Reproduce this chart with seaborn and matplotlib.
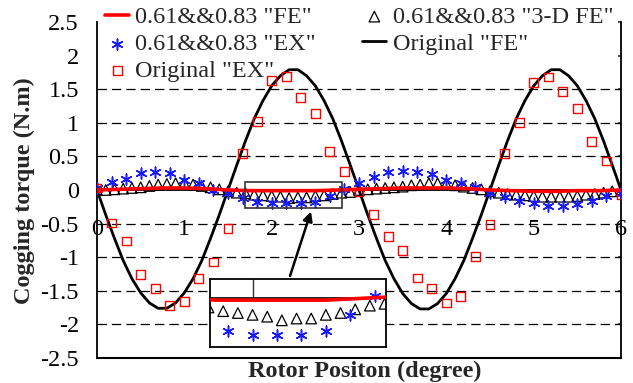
import matplotlib
matplotlib.use('Agg')
import matplotlib.pyplot as plt
import seaborn as sns
import pandas as pd
import numpy as np
from matplotlib.patches import Rectangle

# 数据
# Original "FE" 曲线, 0 ~ 6 度, 步长 0.1
x_fine = np.round(np.arange(0, 6.05, 0.1), 1)
orig_fe = [0.0, -0.37, -0.72, -1.05, -1.32, -1.53, -1.68, -1.76, -1.76, -1.68, -1.53, -1.32, -1.05, -0.72, -0.37, 0.0,
           0.37, 0.73, 1.06, 1.33, 1.55, 1.70, 1.79, 1.79, 1.70, 1.55, 1.33, 1.06, 0.73, 0.37, 0.0,
           -0.37, -0.72, -1.05, -1.32, -1.54, -1.69, -1.77, -1.77, -1.69, -1.54, -1.32, -1.05, -0.72, -0.37, 0.0,
           0.37, 0.73, 1.06, 1.33, 1.55, 1.70, 1.79, 1.79, 1.70, 1.55, 1.33, 1.06, 0.73, 0.37, 0.0]

# 0.61&&0.83 "3-D FE" 三角形, 步长 0.1
fe_3d = [0.0, 0.0, 0.01, 0.02, 0.03, 0.04, 0.06, 0.08, 0.09, 0.10, 0.10, 0.08, 0.06, 0.04, 0.01,
         -0.02, -0.04, -0.05, -0.07, -0.08, -0.09, -0.10, -0.12, -0.11, -0.11, -0.09, -0.08, -0.06, -0.04, -0.03,
         0.0, 0.01, 0.02, 0.03, 0.04, 0.05, 0.07, 0.08, 0.10, 0.10, 0.09, 0.07, 0.05, 0.03, 0.01,
         -0.02, -0.04, -0.06, -0.07, -0.08, -0.09, -0.10, -0.10, -0.10, -0.10, -0.09, -0.07, -0.06, -0.04, -0.02,
         -0.01]

# 实验点, 步长 1/6 度
x_ex = np.arange(37) / 6
orig_ex = [0.03, -0.49, -0.76, -1.26, -1.46, -1.72, -1.66, -1.32, -1.07, -0.57,
           0.54, 1.02, 1.63, 1.69, 1.38, 1.14, 0.57, 0.28, -0.03,
           -0.36, -0.69, -0.90, -1.31, -1.47, -1.68, -1.59, -0.99, -0.51,
           0.54, 1.00, 1.60, 1.68, 1.47, 1.21, 0.72, 0.43, -0.07]
new_ex = [0.03, 0.12, 0.16, 0.25, 0.27, 0.25, 0.15, 0.10, 0.0, -0.05,
          -0.12, -0.18, -0.20, -0.20, -0.20, -0.18, -0.09, 0.01, 0.10,
          0.20, 0.27, 0.28, 0.27, 0.24, 0.15, 0.10, 0.04, -0.04,
          -0.10, -0.16, -0.20, -0.24, -0.24, -0.21, -0.16, -0.09, -0.05]

# 0.61&&0.83 "FE" 曲线, 步长 0.25
x_fe = np.arange(25) * 0.25
new_fe = [0.0, 0.01, 0.02, 0.03, 0.03, 0.02, 0.0, -0.01, -0.01, -0.01, -0.01, 0.0, 0.01,
          0.02, 0.03, 0.03, 0.03, 0.02, 0.0, -0.01, -0.02, -0.02, -0.01, -0.01, 0.0]

y_ticks = [-2.5, -2, -1.5, -1, -0.5, 0, 0.5, 1, 1.5, 2, 2.5]
y_tick_labels = ['-2.5', '-2', '-1.5', '-1', '-0.5', '0', '0.5', '1', '1.5', '2', '2.5']
x_ticks = [0, 1, 2, 3, 4, 5, 6]
grid_levels = [-2, -1.5, -1, -0.5, 0.5, 1, 1.5]

lab_fe = '0.61&&0.83 "FE"'
lab_3d = '0.61&&0.83 "3-D FE"'
lab_ex = '0.61&&0.83 "EX"'
lab_ofe = 'Original "FE"'
lab_oex = 'Original "EX"'

df_fine = pd.DataFrame({'x': x_fine, 'orig_fe': orig_fe, 'fe_3d': fe_3d})
df_ex = pd.DataFrame({'x': x_ex, 'orig_ex': orig_ex, 'new_ex': new_ex})
df_fe = pd.DataFrame({'x': x_fe, 'new_fe': new_fe})

sns.set_style('white')
plt.rcParams['font.family'] = ['Liberation Serif', 'DejaVu Serif']
plt.rcParams['axes.unicode_minus'] = False

star = (6, 2, 0)


def draw_series(a, legend=True):
    sns.lineplot(data=df_fine, x='x', y='orig_fe', ax=a, color='black', lw=2.0, zorder=3,
                 label=lab_ofe if legend else None)
    sns.scatterplot(data=df_fine, x='x', y='fe_3d', ax=a, marker='^', s=58, facecolor='none',
                    edgecolor='black', linewidth=0.9, zorder=4, label=lab_3d if legend else None)
    sns.scatterplot(data=df_ex, x='x', y='new_ex', ax=a, marker=star, s=60, color='#1a1aff',
                    edgecolor='#1a1aff', linewidth=1.1, zorder=5, label=lab_ex if legend else None)
    sns.lineplot(data=df_fe, x='x', y='new_fe', ax=a, color='#ff0000', lw=2.6, zorder=6,
                 label=lab_fe if legend else None)
    sns.scatterplot(data=df_ex, x='x', y='orig_ex', ax=a, marker='s', s=40, facecolor='none',
                    edgecolor='#ff0000', linewidth=1.0, zorder=5, label=lab_oex if legend else None)


fig = plt.figure(figsize=(6.33, 3.83), dpi=100)
ax = fig.add_axes([97 / 633, 1 - 358 / 383, 524 / 633, 336 / 383])

for g in grid_levels:
    ax.axhline(g, color='black', lw=0.9, ls=(0, (7.5, 4)), zorder=1)

draw_series(ax)

ax.set_xlim(0, 6)
ax.set_ylim(-2.5, 2.5)
ax.set_xticks(x_ticks)
ax.set_xticklabels([str(t) for t in x_ticks])
ax.set_yticks(y_ticks)
ax.set_yticklabels(y_tick_labels)

ax.spines['top'].set_visible(False)
ax.spines['bottom'].set_position(('data', 0))
for s in ['left', 'right', 'bottom']:
    ax.spines[s].set_color('black')
    ax.spines[s].set_linewidth(1.3)
ax.axhline(-2.5, color='black', lw=1.5, zorder=8, clip_on=False)

ax.tick_params(axis='x', direction='in', length=6, width=1, pad=21, labelsize=17.5, colors='black')
ax.tick_params(axis='y', direction='in', length=5, width=1.5, pad=13, labelsize=17.5,
               color='#555555', labelcolor='black', right=True)
for t in ax.yaxis.get_major_ticks():
    t.tick2line.set_markersize(2)

ax.set_xlabel('Rotor Positon (degree)', fontsize=17.5, fontweight='bold')
ax.xaxis.set_label_coords(0.511, -0.008)
ax.set_ylabel('Cogging torque (N.m)', fontsize=17.5, fontweight='bold')
ax.yaxis.set_label_coords(-0.118, 0.497)

# 图例
h, l = ax.get_legend_handles_labels()
order = [lab_fe, lab_ex, lab_oex, lab_3d, lab_ofe]
hd = dict(zip(l, h))
ax.legend([hd[k] for k in order], order, ncol=2, loc='upper left',
          bbox_to_anchor=(105 / 633, 1 - 6 / 383), bbox_transform=fig.transFigure,
          frameon=False, fontsize=17.5, handlelength=1.0, handletextpad=0.25,
          columnspacing=1.9, labelspacing=0.2, borderpad=0, borderaxespad=0)

# 放大框和箭头
ax.add_patch(Rectangle((1.70, -0.27), 1.10, 0.39, fill=False, ec='#333333', lw=1.2, zorder=7))
ax.annotate('', xy=(2.46, -0.28), xytext=(2.20, -1.32),
            arrowprops=dict(arrowstyle='-|>', color='black', lw=1.8, mutation_scale=14), zorder=7)

# 局部放大图
ins = fig.add_axes([210 / 633, 1 - 347 / 383, 176 / 633, 68 / 383], zorder=10)
ins.set_facecolor('white')
draw_series(ins, legend=False)
ins.axhline(0, color='black', lw=1.2, zorder=2)
ins.set_xlim(1.71, 2.91)
ins.set_ylim(-0.265, 0.105)
ins.set_xticks([2])
ins.set_yticks([])
ins.set_xlabel('')
ins.set_ylabel('')
ins.tick_params(axis='x', bottom=False, top=True, labelbottom=False, direction='in',
                length=13.5, width=1, color='#333333')
for s in ins.spines.values():
    s.set_color('black')
    s.set_linewidth(1.3)
    s.set_visible(True)

fig.savefig('out.png', dpi=100)
